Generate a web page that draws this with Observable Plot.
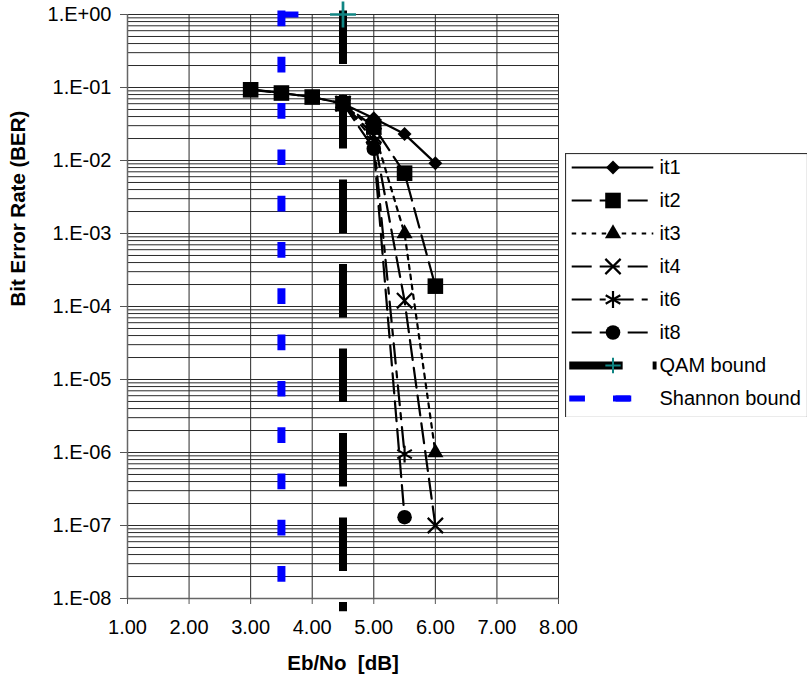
<!DOCTYPE html>
<html><head><meta charset="utf-8">
<script src="https://cdn.jsdelivr.net/npm/d3@7"></script>
<script src="https://cdn.jsdelivr.net/npm/@observablehq/plot@0.6"></script>
<style>
html,body{margin:0;padding:0;background:#fff;}
#chart{position:relative;width:808px;height:678px;overflow:hidden;}
#legend{position:absolute;left:565px;top:153px;}
svg text{white-space:pre;}
</style></head><body><div id="chart"></div>
<script>
// ---- data ----
const seriesNames = ["it1", "it2", "it3", "it4", "it6", "it8"];
const ebno_it1 = [3.0, 3.5, 4.0, 4.5, 5.0, 5.5, 6.0];
const ber_it1  = [0.095, 0.084, 0.074, 0.060, 0.038, 0.023, 0.0092];
const ebno_it2 = [3.0, 3.5, 4.0, 4.5, 5.0, 5.5, 6.0];
const ber_it2  = [0.093, 0.084, 0.074, 0.060, 0.029, 0.0067, 0.00019];
const ebno_it3 = [4.5, 5.0, 5.5, 6.0];
const ber_it3  = [0.060, 0.026, 0.0010, 1.0e-6];
const ebno_it4 = [4.5, 5.0, 5.5, 6.0];
const ber_it4  = [0.060, 0.022, 1.2e-4, 1.0e-7];
const ebno_it6 = [4.5, 5.0, 5.5];
const ber_it6  = [0.060, 0.019, 9.5e-7];
const ebno_it8 = [4.5, 5.0, 5.5];
const ber_it8  = [0.060, 0.0145, 1.3e-7];
const qamEbno = [4.5, 4.5];
const qamBer  = [1, 7.6e-9];
const shannonEbno = [3.5, 3.5];
const shannonBer  = [1, 1e-8];
const boundNames = ["QAM bound", "Shannon bound"];

const xTicks = [1, 2, 3, 4, 5, 6, 7, 8];
const xTickLabels = ["1.00", "2.00", "3.00", "4.00", "5.00", "6.00", "7.00", "8.00"];
const yTicks = [1, 1e-1, 1e-2, 1e-3, 1e-4, 1e-5, 1e-6, 1e-7, 1e-8];
const yTickLabels = ["1.E+00", "1.E-01", "1.E-02", "1.E-03", "1.E-04", "1.E-05", "1.E-06", "1.E-07", "1.E-08"];
const xTitle = "Eb/No  [dB]";
const yTitle = "Bit Error Rate (BER)";

// ---- tables built from the arrays ----
const seriesData = {
  it1: ebno_it1.map((x, i) => ({x, y: ber_it1[i]})),
  it2: ebno_it2.map((x, i) => ({x, y: ber_it2[i]})),
  it3: ebno_it3.map((x, i) => ({x, y: ber_it3[i]})),
  it4: ebno_it4.map((x, i) => ({x, y: ber_it4[i]})),
  it6: ebno_it6.map((x, i) => ({x, y: ber_it6[i]})),
  it8: ebno_it8.map((x, i) => ({x, y: ber_it8[i]}))
};
const qamData = qamEbno.map((x, i) => ({x, y: qamBer[i]}));
const shannonData = shannonEbno.map((x, i) => ({x, y: shannonBer[i]}));

// ---- styles ----
const teal = "#108583";
const blue = "#0000ff";
const sty = {
  it1: {dash: null, symbol: "diamond2", r: 6.3, filled: true},
  it2: {dash: "20,8", symbol: "square", r: 8.8, filled: true},
  it3: {dash: "4.5,5.5", symbol: "triangle", r: 6, filled: true},
  it4: {dash: "20,8", symbol: "times", r: 7, filled: false},
  it6: {dash: "20,8,6,8", symbol: "asterisk", r: 8, filled: false},
  it8: {dash: "20,8", symbol: "circle", r: 7.3, filled: true}
};
const dashMarker = {draw(ctx) { ctx.moveTo(0, -3); ctx.lineTo(17, -3); ctx.lineTo(17, 3); ctx.lineTo(0, 3); ctx.closePath(); }};

function dotOpts(s, extra = {}) {
  const st = sty[s];
  return st.filled
    ? {symbol: st.symbol, r: st.r, fill: "#000", stroke: "none", ...extra}
    : {symbol: st.symbol, r: st.r, fill: "none", stroke: "#000", strokeWidth: 2.2, ...extra};
}

// minor gridlines for the log axis
const gridYs = [];
for (let e = -8; e <= 0; e++) for (let m = 1; m <= 9; m++) { const v = m * Math.pow(10, e); if (v <= 1.0000001) gridYs.push(v); }
const xLab = new Map(xTicks.map((d, i) => [d, xTickLabels[i]]));
const yLab = new Map(yTicks.map((d, i) => [d, yTickLabels[i]]));

const markerOrder = ["it3", "it4", "it6", "it8", "it1", "it2"];

const chart = Plot.plot({
  width: 808, height: 678,
  marginLeft: 127, marginRight: 250, marginTop: 14, marginBottom: 80,
  style: {fontFamily: "'Liberation Sans', Arial, sans-serif", fontSize: "20px", color: "#000", background: "#fff"},
  x: {domain: [1, 8]},
  y: {type: "log", domain: [1e-8, 1]},
  marks: [
    Plot.gridY(gridYs, {stroke: "#2a2a2a", strokeOpacity: 1, strokeWidth: 1}),
    Plot.gridX(xTicks, {stroke: "#2a2a2a", strokeOpacity: 1, strokeWidth: 1}),
    Plot.ruleX([1], {stroke: "#666", strokeWidth: 1.5}),
    Plot.ruleY([1e-8], {stroke: "#666", strokeWidth: 1.5}),
    Plot.axisY(yTicks, {tickSize: 7, tickPadding: 9, tickFormat: d => yLab.get(d), stroke: "#555", label: null}),
    Plot.axisX(xTicks, {tickSize: 6, tickPadding: 15, tickFormat: d => xLab.get(d), stroke: "#555", label: null}),
    ...seriesNames.map(s => Plot.line(seriesData[s], {x: "x", y: "y", stroke: "#000", strokeWidth: 2.2, strokeDasharray: sty[s].dash || undefined})),
    Plot.line(qamData, {x: "x", y: "y", stroke: "#000", strokeWidth: 8, strokeDasharray: "45.4,39.1", strokeLinecap: "square"}),
    Plot.line(shannonData, {x: "x", y: "y", stroke: blue, strokeWidth: 8, strokeDasharray: "7.7,38.6", strokeLinecap: "square"}),
    ...markerOrder.map(s => Plot.dot(seriesData[s], {x: "x", y: "y", ...dotOpts(s)})),
    Plot.dot(qamData.slice(0, 1), {x: "x", y: "y", symbol: "plus", r: 8.4, stroke: teal, strokeWidth: 2.7}),
    Plot.dot(shannonData.slice(0, 1), {x: "x", y: "y", symbol: dashMarker, fill: blue, stroke: "none"}),
    Plot.text([xTitle], {frameAnchor: "bottom", dy: 65, text: d => d, fontWeight: "bold", fontSize: 20.5, lineAnchor: "middle"}),
    Plot.text([yTitle], {frameAnchor: "left", dx: -109, rotate: -90, text: d => d, fontWeight: "bold", fontSize: 20.5, lineAnchor: "middle"})
  ]
});
document.getElementById("chart").appendChild(chart);

// ---- legend ----
const legendNames = [...seriesNames, ...boundNames];
const legendMarks = [Plot.frame({stroke: "#333", strokeWidth: 1.2})];
for (const s of seriesNames) {
  legendMarks.push(Plot.ruleY([s], {x1: 0, x2: 1, y: d => d, stroke: "#000", strokeWidth: 2.2, strokeDasharray: sty[s].dash || undefined}));
  legendMarks.push(Plot.dot([s], {x: () => 0.5, y: d => d, ...dotOpts(s)}));
}
legendMarks.push(Plot.ruleY([boundNames[0]], {x1: -0.03, x2: 1.04, y: d => d, stroke: "#000", strokeWidth: 8, strokeDasharray: "53.4,30"}));
legendMarks.push(Plot.dot([boundNames[0]], {x: () => 0.5, y: d => d, symbol: "plus", r: 5, stroke: teal, strokeWidth: 2}));
legendMarks.push(Plot.ruleY([boundNames[1]], {x1: -0.03, x2: 1.04, y: d => d, stroke: blue, strokeWidth: 6, strokeDasharray: "15.7,30.6"}));
legendMarks.push(Plot.dot([boundNames[1]], {x: () => 0.5, y: d => d, symbol: dashMarker, fill: blue, stroke: "none"}));
legendMarks.push(Plot.text(legendNames, {x: () => 1, y: d => d, text: d => d, textAnchor: "start", dx: 5.7, fontSize: 20}));

const legend = Plot.plot({
  width: 242, height: 264,
  marginLeft: 0, marginRight: 0, marginTop: 0, marginBottom: 0,
  style: {fontFamily: "'Liberation Sans', Arial, sans-serif", fontSize: "20px", color: "#000", background: "#fff"},
  x: {domain: [0, 1], range: [6.7, 88.3], axis: null},
  y: {type: "point", domain: legendNames, range: [12, 247], padding: 0, axis: null},
  marks: legendMarks
});
legend.id = "legend";
document.getElementById("chart").appendChild(legend);
</script></body></html>
